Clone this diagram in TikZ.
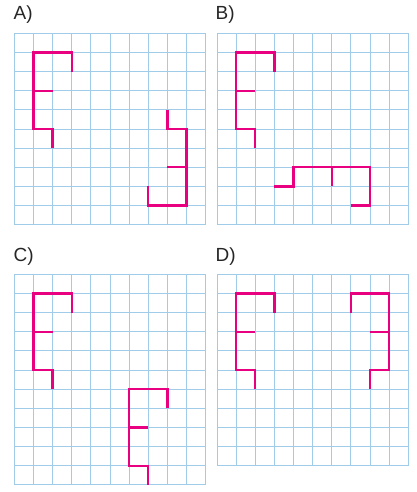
\documentclass[tikz,border=0pt]{standalone}
\usepackage{fontspec}
\setmainfont{Liberation Sans}
\definecolor{gridblue}{RGB}{160,204,234}
\definecolor{shapepink}{RGB}{232,0,128}
\begin{document}
\begin{tikzpicture}[x=1pt,y=-1pt,
  gridline/.style={draw=gridblue,line width=1pt},
  figline/.style={draw=shapepink,line width=2.4pt,line cap=butt,line join=miter},
  lbl/.style={anchor=base west,inner sep=0pt,font=\fontsize{19}{22}\selectfont,text=black!85}]
\useasboundingbox (0,0) rectangle (417,492);
\def\cs{19.14}
\newcommand{\mygrid}[2]{%
  \foreach \i in {0,...,#1} {\draw[gridline] (\i,0)--(\i,#2);}
  \foreach \j in {0,...,#2} {\draw[gridline] (0,\j)--(#1,\j);}}
% label nodes
\node[lbl] (la) at (13.5,20) {A)};
\node[lbl] (lb) at (215.5,20) {B)};
\node[lbl] (lc) at (13.5,261) {C)};
\node[lbl] (ld) at (215.5,261) {D)};
% grids
\begin{scope}[shift={(14.3,33.3)},x=\cs pt,y=-\cs pt]
  \mygrid{10}{10}
  \draw[figline] (3,2)--(3,1)--(1,1)--(1,5)--(2,5)--(2,6) (1,3)--(2,3);
  \draw[figline] (8,4)--(8,5)--(9,5)--(9,9)--(7,9)--(7,8) (8,7)--(9,7);
\end{scope}
\begin{scope}[shift={(217,33.3)},x=\cs pt,y=-\cs pt]
  \mygrid{10}{10}
  \draw[figline] (3,2)--(3,1)--(1,1)--(1,5)--(2,5)--(2,6) (1,3)--(2,3);
  \draw[figline] (3,8)--(4,8)--(4,7)--(8,7)--(8,9)--(7,9) (6,7)--(6,8);
\end{scope}
\begin{scope}[shift={(14.3,274.3)},x=\cs pt,y=-\cs pt]
  \mygrid{10}{11}
  \draw[figline] (3,2)--(3,1)--(1,1)--(1,5)--(2,5)--(2,6) (1,3)--(2,3);
  \draw[figline] (8,7)--(8,6)--(6,6)--(6,10)--(7,10)--(7,11) (6,8)--(7,8);
\end{scope}
\begin{scope}[shift={(217,274.3)},x=\cs pt,y=-\cs pt]
  \mygrid{10}{10}
  \draw[figline] (3,2)--(3,1)--(1,1)--(1,5)--(2,5)--(2,6) (1,3)--(2,3);
  \draw[figline] (7,2)--(7,1)--(9,1)--(9,5)--(8,5)--(8,6) (9,3)--(8,3);
\end{scope}
\end{tikzpicture}
\end{document}
